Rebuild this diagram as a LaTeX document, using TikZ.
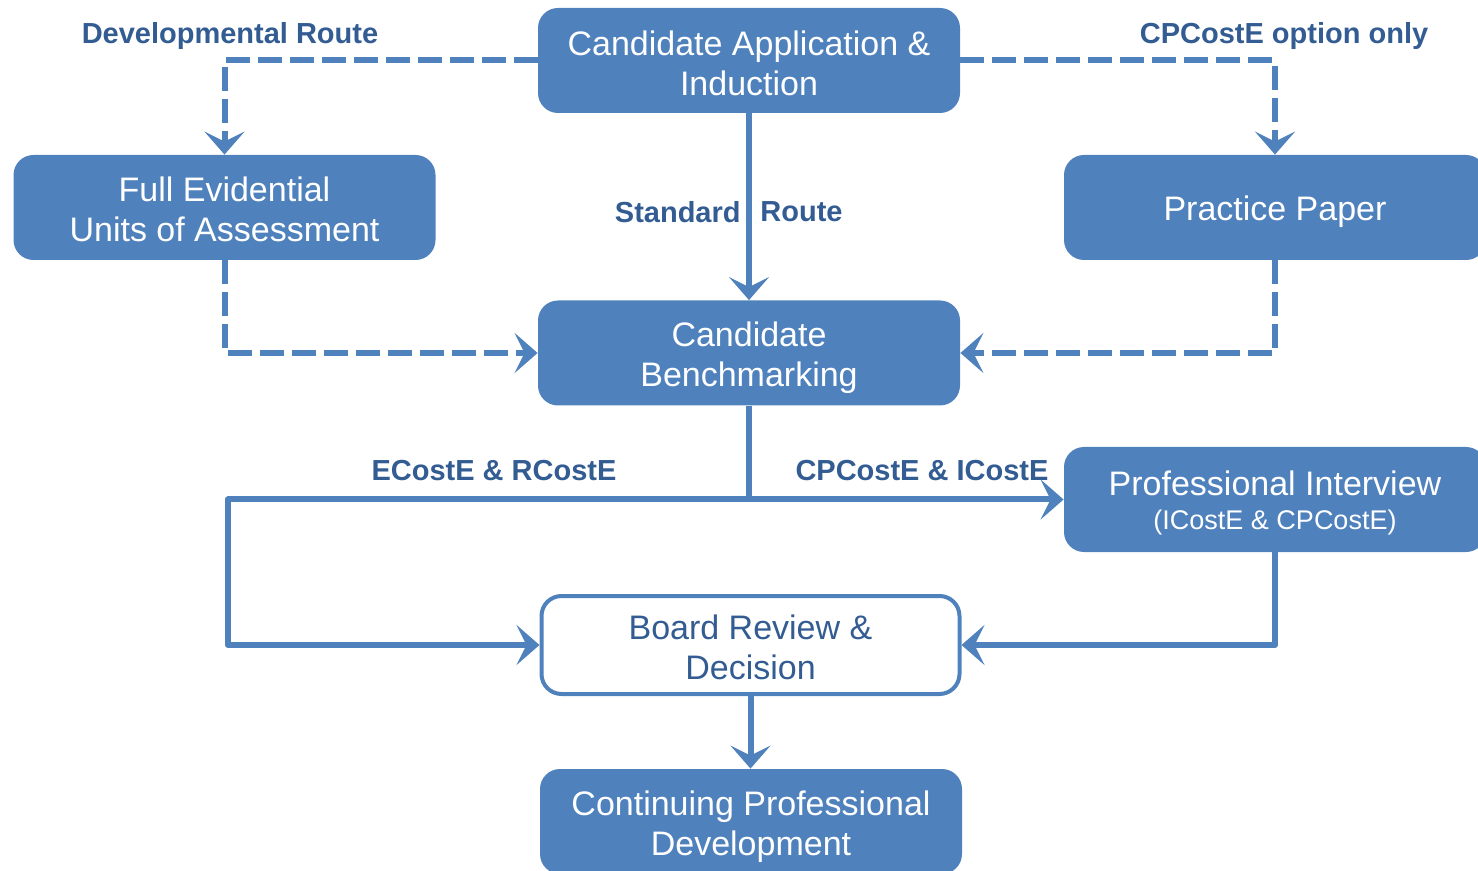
\documentclass[tikz,border=0pt]{standalone}
\usepackage{fontspec}
\setmainfont{Liberation Sans}
\usetikzlibrary{arrows.meta}
\definecolor{boxblue}{RGB}{79,129,189}
\definecolor{lblblue}{RGB}{50,92,146}
\tikzset{
  box/.style={draw=none, fill=boxblue, rounded corners=10pt, minimum width=211pt, minimum height=52.5pt, inner sep=0pt},
  wbox/.style={box, fill=white, draw=boxblue, line width=2pt, minimum width=209pt, minimum height=49pt},
  btext/.style={text=white, align=center, font=\fontsize{17}{20}\selectfont, inner sep=0pt},
  wtext/.style={btext, text=lblblue},
  lbl/.style={text=lblblue, font=\bfseries\fontsize{14.5}{17}\selectfont, inner sep=0pt},
  conn/.style={draw=boxblue, line width=3pt, line join=round,
    -{Stealth[length=11.5pt, width=20pt, inset=5pt]}},
  dsh/.style={conn, dash pattern=on 12pt off 4pt, line join=miter}
}
\begin{document}
\begin{tikzpicture}[x=0.5pt, y=-0.5pt]
\useasboundingbox (0,0) rectangle (1478,871);
\node[box] (top) at (749,60.5) {};
\node[box] (full) at (224.5,207.5) {};
\node[box] (pp) at (1275,207.5) {};
\node[box] (bench) at (749,353) {};
\node[box] (pi) at (1275,499.5) {};
\node[wbox] (board) at (750.5,645) {};
\node[box] (cpd) at (751,821.5) {};

\node[btext] (topt) at ([yshift=-1.2pt]top.center) {Candidate Application \&\\Induction};
\node[btext] (fullt) at ([yshift=-1pt]full.center) {Full Evidential\\Units of Assessment};
\node[btext] (ppt) at ([yshift=-2pt]pp.center) {Practice Paper};
\node[btext] (bencht) at ([yshift=-2.5pt]bench.center) {Candidate\\Benchmarking};
\node[btext] (pit) at ([yshift=-1.8pt]pi.center) {Professional Interview\\[-3pt]{\fontsize{13.5}{16}\selectfont (ICostE \& CPCostE)}};
\node[wtext] (boardt) at ([yshift=-1pt]board.center) {Board Review \&\\Decision};
\node[btext] (cpdt) at ([yshift=-2.5pt]cpd.center) {Continuing Professional\\Development};

\node[lbl] (ldev) at (230,36.5) {Developmental Route};
\node[lbl] (lcp) at (1284,36.5) {CPCostE option only};
\node[lbl, anchor=east] (lstd) at (741,212) {Standard};
\node[lbl, anchor=west] (lrt) at (760,212) {Route};
\node[lbl] (ler) at (494,471) {ECostE \& RCostE};
\node[lbl] (lci) at (922,471) {CPCostE \& ICostE};

\coordinate (j) at (bench.south |- pi.west);
\coordinate (l) at (228,499.5);

\draw[dsh] (top.west) -| (full.north);
\draw[dsh] (top.east) -| (pp.north);
\draw[conn] (top) -- (bench);
\draw[dsh] (full.south) |- (bench.west);
\draw[dsh] (pp.south) |- (bench.east);
\draw[conn] (bench.south) |- (pi.west);
\draw[conn] (j) -- (l) |- (board.west);
\draw[conn] (pi.south) |- (board.east);
\draw[conn] (board.south) -- (board.south |- cpd.north);
\end{tikzpicture}
\end{document}
